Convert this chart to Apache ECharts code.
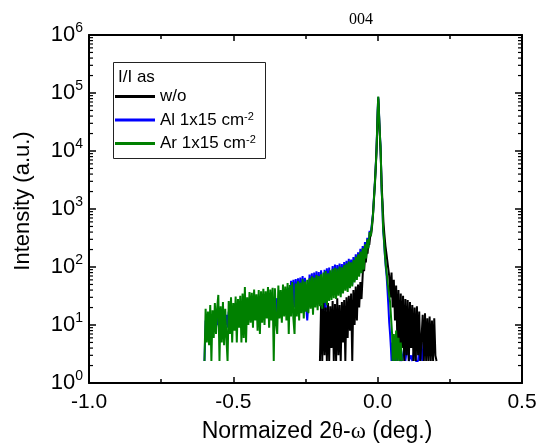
<!DOCTYPE html>
<html><head><meta charset="utf-8">
<script src="https://cdn.jsdelivr.net/npm/echarts@6/dist/echarts.min.js"></script>
<style>html,body{margin:0;padding:0;background:#fff}#c{width:541px;height:445px}</style>
</head><body><div id="c"></div>
<script>
const SANS = '"Liberation Sans", Arial, sans-serif';
const SERIF = '"Liberation Serif", "Times New Roman", serif';

// ---- axes ----
const X_MIN = -1.0, X_MAX = 0.5, X_INTERVAL = 0.5;
const Y_MIN = 1, Y_MAX = 1e6;
const logMinorMultipliers = [2, 3, 4, 5, 6, 7, 8, 9];
const logDecades = [0, 1, 2, 3, 4, 5];

// ---- legend / names ----
const seriesNames = ['w/o', 'Al 1x15 cm-2', 'Ar 1x15 cm-2'];
const seriesColors = ['#000000', '#0000ff', '#008000'];

// sampling step of the noisy tails (deg.)
const TAIL_STEP = 0.004;

// ---- w/o (black) ----
const woLeftStart = -0.200;
const woLeft = [2.4, 22, 2.4, 25, 3, 20, 2.4, 24, 2.4, 21,
  4, 26, 2.4, 23, 2.4, 29, 3, 22, 2.4, 25,
  5, 27, 2.4, 30, 6, 32, 8, 35, 2.4, 40,
  10, 46, 12, 50, 20, 55, 28];
const woPeak = [[-0.052, 70], [-0.050, 110], [-0.047, 85], [-0.044, 140], [-0.041, 120], [-0.038, 190],
  [-0.035, 170], [-0.032, 260], [-0.029, 240], [-0.026, 330], [-0.023, 360], [-0.021, 420],
  [-0.018, 600], [-0.015, 1000], [-0.012, 1700], [-0.009, 3000], [-0.006, 6000], [-0.003, 14000],
  [0.000, 40000], [0.002, 80000], [0.004, 50000], [0.006, 28000], [0.008, 16000], [0.010, 10000],
  [0.012, 5000], [0.014, 2500], [0.017, 1200], [0.020, 600], [0.023, 380], [0.027, 230],
  [0.031, 160], [0.035, 110]];
const woRightStart = 0.040;
const woRight = [70, 30, 80, 20, 60, 12, 48, 6, 40, 2.4,
  35, 4, 32, 2.4, 28, 3, 27, 2.4, 25, 4,
  22, 2.4, 20, 2.4, 21, 3, 17, 2.4, 2.4, 15,
  2.4, 16, 2.4, 13, 2.4, 14, 2.4, 12, 2.4, 13,
  3, 2.4];

// ---- Al 1x15 cm-2 (blue) ----
const alLeftStart = -0.600;
const alLeft = [2.4, 12, 7, 11, 8, 13, 9, 12, 8, 13,
  9, 14, 10, 13, 9, 15, 8, 14, 10, 15,
  9, 17, 10, 18, 11, 16, 12, 19, 10, 18,
  12, 20, 11, 21, 13, 22, 12, 20, 14, 23,
  14, 24, 13, 25, 15, 23, 14, 26, 15, 25,
  15, 27, 16, 26, 17, 28, 15, 27, 18, 29,
  17, 30, 16, 29, 18, 31, 17, 32, 19, 33,
  20, 40, 19, 44, 21, 58, 22, 60, 20, 62,
  21, 64, 23, 66, 20, 70, 24, 65, 22, 12,
  24, 74, 25, 78, 23, 80, 26, 84, 24, 82,
  27, 88, 28, 16, 90, 18, 95, 29, 98, 30,
  32, 104, 33, 110, 34, 108, 36, 115, 35, 112,
  40, 122, 42, 128, 44, 138, 46, 134, 50, 148,
  58, 165, 66, 180, 75, 205, 85, 230, 98, 270,
  160, 320, 220, 420, 380];
const alPeak = [[-0.020, 560], [-0.016, 850], [-0.013, 1550], [-0.010, 2700], [-0.007, 5200], [-0.004, 10500],
  [-0.002, 23000], [0.000, 50000], [0.002, 85000], [0.004, 55000], [0.006, 30000], [0.008, 18000],
  [0.010, 12000], [0.012, 5000], [0.014, 2000], [0.016, 1300], [0.019, 420], [0.021, 330],
  [0.025, 160], [0.028, 100], [0.031, 70], [0.034, 40], [0.037, 22], [0.040, 11],
  [0.043, 7], [0.046, 4]];
const alRightStart = 0.048;
const alRight = [2.4, 5, 2.4, 4, 2.4, 2.4, 5, 2.4, 3, 2.4,
  2.4, 4, 2.4, 2.4, 5, 2.4, 2.4, 3, 2.4, 2.4,
  4, 2.4, 2.4, 2.4, 4, 2.4, 5, 2.4];

// ---- Ar 1x15 cm-2 (green) ----
const arLeftStart = -0.600;
const arLeft = [2.4, 19, 5, 17, 4.5, 22, 2.4, 18, 6, 24,
  7, 20, 33, 2.4, 21, 5, 25, 4.5, 19, 6,
  2.4, 26, 7, 30, 5, 24, 8, 31, 5, 28,
  9, 32, 5, 35, 6, 45, 5, 30, 10, 37,
  11, 36, 9, 41, 12, 34, 8, 40, 7, 38,
  11, 42, 10, 38, 13, 45, 9, 41, 12, 44,
  2.4, 43, 11, 7, 48, 13, 40, 11, 50, 14,
  46, 12, 53, 7, 49, 14, 55, 13, 7, 52,
  14, 57, 12, 54, 16, 62, 13, 56, 17, 60,
  16, 64, 19, 69, 15, 66, 20, 73, 18, 70,
  21, 75, 19, 80, 24, 85, 22, 78, 26, 88,
  27, 92, 29, 97, 28, 94, 32, 102, 30, 99,
  35, 108, 39, 115, 37, 124, 43, 120, 46, 132,
  54, 150, 60, 165, 68, 185, 78, 210, 90, 245,
  140, 300, 210, 400, 340];
const arPeak = [[-0.020, 520], [-0.016, 800], [-0.013, 1500], [-0.010, 2600], [-0.007, 5000], [-0.004, 10000],
  [-0.002, 22000], [0.000, 50000], [0.002, 87000], [0.004, 55000], [0.006, 30000], [0.008, 18000],
  [0.010, 12000], [0.012, 5000], [0.014, 2000], [0.016, 1300], [0.019, 450], [0.021, 340],
  [0.025, 170], [0.028, 110], [0.031, 80], [0.035, 50], [0.039, 35], [0.043, 25],
  [0.047, 12], [0.050, 7]];
const arRightStart = 0.052;
const arRight = [2.4, 7, 2.4, 8, 2.4, 6, 2.4, 5, 2.4];

// ---- build [x, y] tables ----
function onGrid(start, ys) {
  return ys.map((y, i) => [Number((start + i * TAIL_STEP).toFixed(4)), y]);
}
function build(ls, l, p, rs, r) {
  return onGrid(ls, l).concat(p, onGrid(rs, r));
}
const woData = build(woLeftStart, woLeft, woPeak, woRightStart, woRight);
const alData = build(alLeftStart, alLeft, alPeak, alRightStart, alRight);
const arData = build(arLeftStart, arLeft, arPeak, arRightStart, arRight);

const minorTickData = [];
logDecades.forEach(d => logMinorMultipliers.forEach(m => minorTickData.push([0, m * Math.pow(10, d)])));

const chart = echarts.init(document.getElementById('c'), null, {renderer: 'canvas'});

const axisLineStyle = {color: '#000', width: 2};
const tickStyle = {color: '#000', width: 1.5};

function lineSeries(name, data, color, z) {
  return {
    name, type: 'line', data, xAxisIndex: 0, yAxisIndex: 0,
    showSymbol: false, symbol: 'none',
    lineStyle: {color, width: 2}, itemStyle: {color},
    z, animation: false, silent: true, clip: true
  };
}

chart.setOption({
  animation: false,
  backgroundColor: '#fff',
  grid: {left: 89, right: 19, top: 35, bottom: 62, containLabel: false, outerBoundsMode: 'none'},
  xAxis: [{
    type: 'value', min: X_MIN, max: X_MAX, interval: X_INTERVAL, position: 'bottom',
    axisLine: {show: true, onZero: false, lineStyle: axisLineStyle},
    axisTick: {show: true, inside: true, length: 6, lineStyle: tickStyle},
    minorTick: {show: true, splitNumber: 2, length: 4, lineStyle: tickStyle},
    splitLine: {show: false}, minorSplitLine: {show: false},
    axisLabel: {show: true, margin: 9, color: '#000', fontSize: 21, fontFamily: SANS,
      formatter: v => v.toFixed(1), showMinLabel: true, showMaxLabel: true}
  }, {
    type: 'value', min: X_MIN, max: X_MAX, interval: X_INTERVAL, position: 'top',
    axisLine: {show: true, onZero: false, lineStyle: axisLineStyle},
    axisTick: {show: true, inside: true, length: 6, lineStyle: tickStyle},
    minorTick: {show: true, splitNumber: 2, length: 4, lineStyle: tickStyle},
    splitLine: {show: false}, axisLabel: {show: false}
  }],
  yAxis: [{
    type: 'log', logBase: 10, min: Y_MIN, max: Y_MAX, position: 'left',
    axisLine: {show: true, onZero: false, lineStyle: axisLineStyle},
    axisTick: {show: true, inside: true, length: 7, lineStyle: tickStyle},
    splitLine: {show: false},
    axisLabel: {show: true, margin: 6, showMinLabel: true, showMaxLabel: true,
      formatter: v => '{b|10}{e|' + Math.round(Math.log10(v)) + '}',
      rich: {
        b: {fontSize: 22, fontFamily: SANS, color: '#000'},
        e: {fontSize: 14, fontFamily: SANS, color: '#000', padding: [0, 0, 13, 0]}
      }}
  }, {
    type: 'log', logBase: 10, min: Y_MIN, max: Y_MAX, position: 'right',
    axisLine: {show: true, onZero: false, lineStyle: axisLineStyle},
    axisTick: {show: true, inside: true, length: 7, lineStyle: tickStyle},
    splitLine: {show: false}, axisLabel: {show: false}
  }],
  legend: {
    left: 115, top: 88, orient: 'vertical', padding: 0,
    itemWidth: 40, itemHeight: 3, itemGap: 6, icon: 'rect',
    data: seriesNames,
    formatter: name => {
      const m = name.match(/^(.*)-2$/);
      return m ? '{t|' + m[1] + '}{s|-2}' : '{t|' + name + '}';
    },
    textStyle: {
      color: '#000',
      rich: {
        t: {fontSize: 17, fontFamily: SANS, color: '#000', lineHeight: 20},
        s: {fontSize: 11, fontFamily: SANS, color: '#000', padding: [0, 0, 7, 0]}
      }
    },
    selectedMode: false
  },
  graphic: [
    {type: 'rect', z: 1, shape: {x: 113.5, y: 62.5, width: 152, height: 96},
      style: {fill: 'none', stroke: '#222', lineWidth: 1}},
    {type: 'text', x: 118, y: 77, style: {text: 'I/I as', font: '17px ' + SANS, fill: '#000', verticalAlign: 'middle'}},
    {type: 'text', x: 361, y: 20, style: {text: '004', font: '16px ' + SERIF, fill: '#000', align: 'center', verticalAlign: 'middle'}},
    {type: 'text', x: 317, y: 432, style: {
      text: '{a|Normaized 2}{g|θ}{a|-}{g|ω}{a| (deg.)}', align: 'center', verticalAlign: 'middle',
      rich: {a: {fontSize: 23, fontFamily: SANS, fill: '#000'}, g: {fontSize: 23, fontFamily: SERIF, fill: '#000'}}
    }},
    {type: 'text', x: 23, y: 201, rotation: Math.PI / 2, style: {
      text: 'Intensity (a.u.)', font: '22px ' + SANS, fill: '#000', align: 'center', verticalAlign: 'middle'}}
  ],
  series: [
    lineSeries(seriesNames[1], alData, seriesColors[1], 2),
    lineSeries(seriesNames[0], woData, seriesColors[0], 3),
    lineSeries(seriesNames[2], arData, seriesColors[2], 4),
    {
      type: 'custom', name: 'minorLogTicks', data: minorTickData, silent: true, clip: false, z: 10,
      encode: {x: 0, y: 1}, animation: false,
      renderItem: (params, api) => {
        const v = api.value(1);
        const l = api.coord([X_MIN, v]);
        const r = api.coord([X_MAX, v]);
        return {type: 'group', children: [
          {type: 'line', shape: {x1: l[0], y1: l[1], x2: l[0] + 4, y2: l[1]}, style: {stroke: '#000', lineWidth: 1.2}},
          {type: 'line', shape: {x1: r[0] - 4, y1: r[1], x2: r[0], y2: r[1]}, style: {stroke: '#000', lineWidth: 1.2}}
        ]};
      }
    }
  ]
});
</script></body></html>
